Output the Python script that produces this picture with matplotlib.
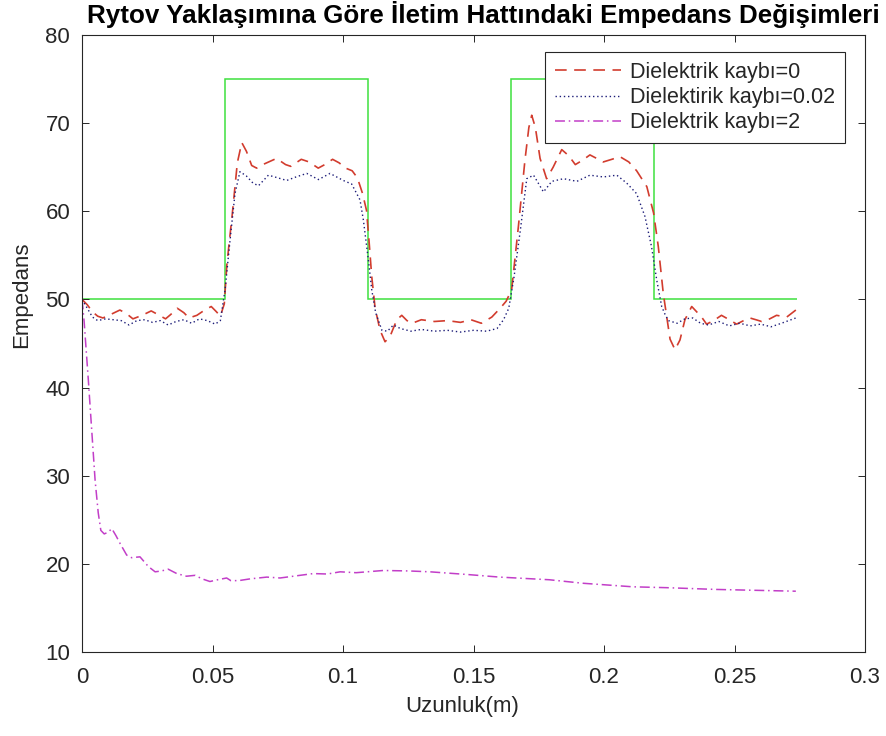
import matplotlib
matplotlib.use("Agg")
import matplotlib.pyplot as plt

plt.rcParams['font.family'] = ['Liberation Sans', 'DejaVu Sans']

# Line impedance profile (stepped reference)
step_edges = [0.0, 0.0548, 0.1096, 0.1644, 0.2192, 0.2740]
step_values = [50, 75, 50, 75, 50]

# Reconstructed impedance, lossless line
x_loss0 = [0.0, 0.002, 0.004, 0.006, 0.008, 0.011, 0.0145, 0.017, 0.0195, 0.023,
           0.0265, 0.029, 0.032, 0.034, 0.0365, 0.039, 0.041, 0.044, 0.047, 0.0495,
           0.0515, 0.053, 0.0545, 0.0555, 0.0575, 0.0595, 0.0612, 0.063, 0.065, 0.0669,
           0.070, 0.0745, 0.078, 0.080, 0.084, 0.087, 0.0905, 0.093, 0.096, 0.0985,
           0.101, 0.1035, 0.1055, 0.1075, 0.109, 0.110, 0.111, 0.1123, 0.1142, 0.1161,
           0.118, 0.1206, 0.1225, 0.1245, 0.1265, 0.130, 0.135, 0.140, 0.145, 0.149,
           0.153, 0.157, 0.1602, 0.1625, 0.1646, 0.1672, 0.1697, 0.1712, 0.1723, 0.1737,
           0.1755, 0.178, 0.1805, 0.1838, 0.1865, 0.189, 0.1918, 0.1946, 0.1972, 0.1997,
           0.203, 0.2061, 0.2095, 0.2125, 0.2164, 0.219, 0.2208, 0.2227, 0.2253, 0.2272,
           0.2291, 0.231, 0.2336, 0.2355, 0.2374, 0.2393, 0.242, 0.245, 0.248, 0.2508,
           0.2535, 0.2559, 0.2582, 0.2604, 0.2635, 0.2661, 0.270, 0.2735]
z_loss0 = [50.0, 49.4, 48.6, 48.1, 47.9, 48.3, 48.8, 48.4, 47.8, 48.2,
           48.7, 48.3, 47.8, 48.3, 49.0, 48.5, 47.9, 48.2, 48.8, 49.2,
           48.6, 48.1, 49.5, 54.0, 59.5, 65.5, 67.8, 66.8, 65.2, 64.9,
           65.4, 66.0, 65.3, 65.1, 65.9, 65.6, 64.9, 65.3, 65.9, 65.5,
           64.9, 64.6, 63.8, 62.0, 60.1, 56.5, 52.6, 49.0, 46.5, 45.2,
           45.8, 47.7, 48.2, 47.6, 47.3, 47.7, 47.5, 47.6, 47.4, 47.7,
           47.3, 48.0, 49.0, 49.8, 51.1, 58.3, 65.8, 69.5, 70.9, 69.5,
           66.0, 63.7, 65.0, 67.0, 66.3, 65.3, 65.8, 66.4, 66.0, 65.6,
           65.9, 66.2, 65.6, 64.6, 62.8, 59.8, 56.0, 50.7, 45.5, 44.3,
           45.4, 47.7, 49.2, 48.6, 48.0, 47.2, 47.6, 48.2, 47.7, 47.2,
           47.6, 47.9, 47.7, 47.5, 47.8, 48.2, 48.0, 48.8]

# Reconstructed impedance, loss tangent 0.02
x_loss002 = [0.0, 0.002, 0.004, 0.006, 0.009, 0.012, 0.015, 0.018, 0.021, 0.024,
             0.027, 0.030, 0.033, 0.036, 0.039, 0.042, 0.045, 0.048, 0.051, 0.053,
             0.0548, 0.0567, 0.0586, 0.0605, 0.063, 0.0655, 0.0676, 0.0714, 0.075, 0.0784,
             0.082, 0.0861, 0.0906, 0.095, 0.1001, 0.1033, 0.1065, 0.1078, 0.1097, 0.111,
             0.1125, 0.1149, 0.117, 0.1193, 0.122, 0.126, 0.130, 0.135, 0.140, 0.145,
             0.150, 0.155, 0.159, 0.1615, 0.1635, 0.1655, 0.168, 0.1704, 0.173, 0.1748,
             0.1768, 0.180, 0.1845, 0.1896, 0.1946, 0.1997, 0.2049, 0.2087, 0.2125, 0.2157,
             0.2182, 0.2202, 0.2221, 0.2234, 0.2247, 0.228, 0.231, 0.234, 0.237, 0.240,
             0.244, 0.248, 0.252, 0.256, 0.260, 0.264, 0.268, 0.2735]
z_loss002 = [50.0, 49.0, 48.0, 47.6, 47.8, 47.7, 47.6, 47.1, 47.6, 47.7,
             47.4, 47.6, 47.1, 47.5, 47.7, 47.3, 47.8, 47.6, 47.2, 47.6,
             51.1, 56.7, 62.0, 64.5, 64.0, 63.2, 62.9, 64.1, 63.8, 63.5,
             63.9, 64.3, 63.6, 64.3, 63.5, 63.1, 61.3, 59.0, 54.5, 51.1,
             48.5, 46.5, 46.4, 47.1, 46.7, 46.4, 46.6, 46.4, 46.5, 46.3,
             46.5, 46.4, 46.7, 47.7, 49.0, 52.5, 58.0, 63.7, 64.1, 63.2,
             62.2, 63.4, 63.7, 63.4, 64.1, 63.9, 64.1, 63.2, 62.0, 59.4,
             56.0, 52.2, 49.2, 48.3, 47.6, 47.3, 47.8, 47.9, 47.3, 47.1,
             47.5, 47.0, 47.3, 47.0, 47.2, 46.9, 47.3, 47.9]

# Reconstructed impedance, loss tangent 2
x_loss2 = [0.0, 0.0008, 0.0015, 0.0024, 0.0037, 0.005, 0.0062, 0.0072, 0.0085, 0.010,
           0.0114, 0.013, 0.0146, 0.0171, 0.019, 0.0222, 0.0254, 0.028, 0.0305, 0.033,
           0.0363, 0.040, 0.0433, 0.046, 0.049, 0.052, 0.0554, 0.057, 0.060, 0.0644,
           0.0708, 0.0759, 0.0835, 0.0886, 0.094, 0.0989, 0.105, 0.1154, 0.125, 0.1333,
           0.1474, 0.160, 0.179, 0.192, 0.211, 0.224, 0.243, 0.2735]
z_loss2 = [50.0, 47.5, 44.6, 40.9, 35.2, 29.5, 25.8, 23.8, 23.4, 23.6,
           24.0, 23.2, 22.3, 21.0, 20.7, 20.8, 19.7, 19.1, 19.2, 19.4,
           18.9, 18.6, 18.7, 18.3, 18.0, 18.2, 18.4, 18.1, 18.1, 18.3,
           18.5, 18.4, 18.7, 18.9, 18.85, 19.1, 19.0, 19.25, 19.2, 19.1,
           18.8, 18.5, 18.2, 17.8, 17.4, 17.3, 17.1, 16.9]

series_labels = ['Dielektrik kaybı=0', 'Dielektirik kaybı=0.02', 'Dielektrik kaybı=2']

title_text = 'Rytov Yaklaşımına Göre İletim Hattındaki Empedans Değişimleri'
x_label = 'Uzunluk(m)'
y_label = 'Empedans'
x_ticks = [0, 0.05, 0.1, 0.15, 0.2, 0.25, 0.3]
x_tick_labels = ['0', '0.05', '0.1', '0.15', '0.2', '0.25', '0.3']
y_ticks = [10, 20, 30, 40, 50, 60, 70, 80]

ink = '#262626'
c_step = '#3fe03f'
c_loss0 = '#d23c2e'
c_loss002 = '#1c1c78'
c_loss2 = '#c23ec8'

fig = plt.figure(figsize=(8.86, 7.36), dpi=100)
ax = fig.add_axes([0.0926, 0.1141, 0.8837, 0.8383])

ax.stairs(step_values, step_edges, baseline=None, color=c_step, linewidth=1.1)
l0, = ax.plot(x_loss0, z_loss0, color=c_loss0, linewidth=1.2, dashes=(7, 4.5))
l1, = ax.plot(x_loss002, z_loss002, color=c_loss002, linewidth=1.0, dashes=(1, 2))
l2, = ax.plot(x_loss2, z_loss2, color=c_loss2, linewidth=1.1, dashes=(6.5, 2.5, 1, 2.5))

ax.set_xlim(0, 0.3)
ax.set_ylim(10, 80)
ax.set_xticks(x_ticks)
ax.set_xticklabels(x_tick_labels)
ax.set_yticks(y_ticks)

ax.tick_params(direction='in', length=5, width=0.7, top=True, right=True,
               labelsize=16, colors=ink, labelcolor=ink)
ax.tick_params(axis='x', pad=10.5)
ax.tick_params(axis='y', pad=8.5)
for sp in ax.spines.values():
    sp.set_color(ink)
    sp.set_linewidth(0.8)

ax.set_xlabel(x_label, fontsize=16, color=ink)
ax.set_ylabel(y_label, fontsize=16, color=ink)
ax.xaxis.set_label_coords(0.485, -0.071)
ax.yaxis.set_label_coords(-0.064, 0.579)

ax.set_title(title_text, fontsize=18.7, fontweight='bold', color='black', x=0.513, pad=9)

leg = ax.legend([l0, l1, l2], series_labels, loc='upper right',
                bbox_to_anchor=(0.9745, 0.9724), borderaxespad=0,
                fontsize=15.5, frameon=True, fancybox=False, framealpha=1,
                edgecolor=ink, handlelength=3.05, handletextpad=0.45,
                labelspacing=0.2, borderpad=0.45)
leg.get_frame().set_linewidth(0.8)
for t in leg.get_texts():
    t.set_color(ink)

fig.savefig('out.png', dpi=100, facecolor='white')
